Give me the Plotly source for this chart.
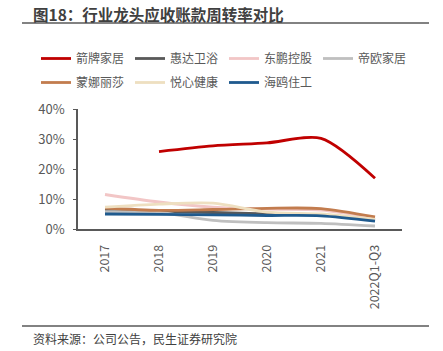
import plotly.graph_objects as go

categories = ["2017", "2018", "2019", "2020", "2021", "2022Q1-Q3"]
series_names = ["箭牌家居", "惠达卫浴", "东鹏控股", "帝欧家居", "蒙娜丽莎", "悦心健康", "海鸥住工"]
jianpai = [None, 25.8, 27.7, 28.7, 30.2, 16.9]
huida = [6.2, 5.8, 5.5, 5.0, 4.8, 3.0]
dongpeng = [11.5, 9.0, 7.3, 6.6, 6.3, 3.7]
diou = [5.8, 5.5, 2.9, 2.1, 1.9, 1.0]
mengna = [7.0, 6.2, 6.5, 6.9, 6.8, 4.0]
yuexin = [7.3, 8.3, 8.6, 5.6, 5.0, 3.2]
haiou = [5.0, 4.9, 4.7, 4.5, 4.4, 2.6]
series_values = [jianpai, huida, dongpeng, diou, mengna, yuexin, haiou]
colors = ["#C00000", "#595959", "#F2C6C6", "#BFBFBF", "#C27C4E", "#EEDFC0", "#1F5A8E"]
legend_rows = ["legend", "legend", "legend", "legend", "legend2", "legend2", "legend2"]
y_ticks = [0, 10, 20, 30, 40]
y_tick_labels = ["0%", "10%", "20%", "30%", "40%"]
title_text = "图18：行业龙头应收账款周转率对比"
source_text = "资料来源：公司公告，民生证券研究院"

FONT = "Noto Sans CJK SC"
W, H = 443, 351
L, R, T, B = 78, 41, 109, 122
pw, ph = W - L - R, H - T - B

def px(x):
    return (x - L) / pw

def py(y):
    return (H - B - y) / ph

fig = go.Figure()
for name, vals, col, lg in zip(series_names, series_values, colors, legend_rows):
    fig.add_trace(go.Scatter(
        x=categories, y=vals, name=name, mode="lines",
        line=dict(color=col, width=2.8, shape="spline", smoothing=0.8),
        connectgaps=False, legend=lg,
    ))

legend_common = dict(
    orientation="h", xanchor="left", yanchor="top",
    entrywidth=49, entrywidthmode="pixels",
    font=dict(family=FONT, size=12, color="#595959"),
    itemwidth=30, bgcolor="rgba(0,0,0,0)",
)

fig.update_layout(
    width=W, height=H,
    margin=dict(l=L, r=R, t=T, b=B),
    paper_bgcolor="white", plot_bgcolor="white",
    font=dict(family=FONT, color="#595959", size=12),
    showlegend=True,
    legend=dict(x=px(36), y=py(44), **legend_common),
    legend2=dict(x=px(36), y=py(68), **legend_common),
    xaxis=dict(
        type="category", range=[-0.5, 5.5], showgrid=False,
        showline=True, linecolor="#595959", linewidth=1.5,
        ticks="", tickangle=-90, tickfont=dict(size=12.5, color="#595959"),
        ticklabelstandoff=9,
    ),
    yaxis=dict(
        range=[0, 40], tickvals=y_ticks, ticktext=y_tick_labels,
        showgrid=False, zeroline=False, showline=True, linecolor="#595959",
        linewidth=1.5, ticks="outside", ticklen=3, tickcolor="#595959",
        tickfont=dict(size=13, color="#595959"), ticklabelstandoff=6,
    ),
    annotations=[
        dict(text="<b>" + title_text + "</b>", xref="paper", yref="paper",
             x=px(31), y=py(14), xanchor="left", yanchor="middle",
             showarrow=False, font=dict(family=FONT, size=15.5, color="#404040")),
        dict(text=source_text, xref="paper", yref="paper",
             x=px(31), y=py(338), xanchor="left", yanchor="middle",
             showarrow=False, font=dict(family=FONT, size=12, color="#404040")),
    ],
    shapes=[
        dict(type="line", xref="paper", yref="paper", x0=px(22), x1=px(429),
             y0=py(23), y1=py(23), line=dict(color="#595959", width=1.5)),
        dict(type="line", xref="paper", yref="paper", x0=px(22), x1=px(429),
             y0=py(326), y1=py(326), line=dict(color="#595959", width=1.5)),
    ],
)

fig.write_html("out.html")
